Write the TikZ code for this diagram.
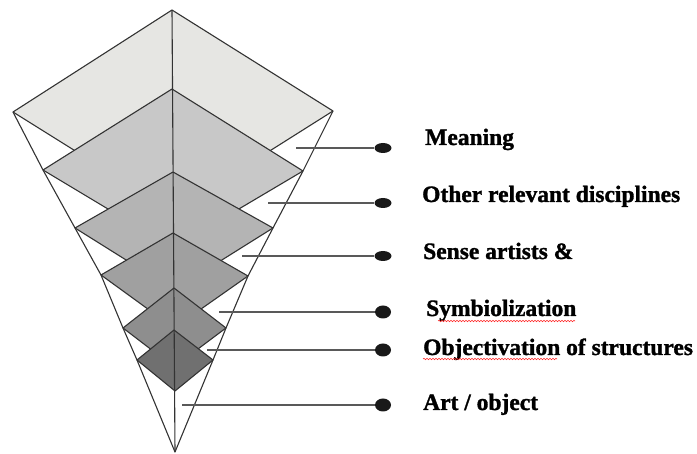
\documentclass[tikz,border=0pt]{standalone}
\usepackage{fontspec}
\setmainfont{Liberation Serif}
\newfontfamily\heavyserif[BoldFeatures={FakeBold=1.3}]{Liberation Serif}
\usetikzlibrary{shapes.geometric,decorations.pathmorphing}

\begin{document}
\begin{tikzpicture}[x=1pt, y=-1pt,
    layer/.style={draw=black!80, line width=1.1pt, line join=round},
    pointer/.style={draw=black!65, line width=1.1pt},
    bullet/.style={ellipse, fill=black!90, inner sep=0pt, minimum width=17pt, minimum height=10pt},
    bigbullet/.style={bullet, minimum width=16pt, minimum height=13pt},
    levelname/.style={anchor=base west, inner sep=0pt, font=\heavyserif\fontsize{23.5}{24}\selectfont\bfseries},
    squiggle/.style={red!85, line width=0.6pt, decorate, decoration={snake, amplitude=0.7pt, segment length=3pt}}]
    \useasboundingbox (0,0) rectangle (697,454);

    \filldraw[layer, fill={rgb,255:red,230;green,230;blue,227}] (172,10) -- (13,112) -- (173,212) -- (333,111) -- cycle;
    \filldraw[layer, fill={rgb,255:red,200;green,200;blue,200}] (172,89) -- (43,170) -- (173,248) -- (303,171) -- cycle;
    \filldraw[layer, fill={rgb,255:red,180;green,180;blue,180}] (173,172) -- (75,228) -- (174,290) -- (273,228) -- cycle;
    \filldraw[layer, fill={rgb,255:red,160;green,160;blue,160}] (173,233) -- (101,275) -- (174,328) -- (248,276) -- cycle;
    \filldraw[layer, fill={rgb,255:red,142;green,142;blue,142}] (174,288) -- (123,328) -- (174,367) -- (226,328) -- cycle;
    \filldraw[layer, fill={rgb,255:red,112;green,112;blue,112}] (174,330) -- (137,360) -- (175,391) -- (213,360) -- cycle;

    \draw[layer] (13,112) -- (43,170) -- (75,228) -- (101,275) -- (123,328) -- (137,360) -- (175,452)
        -- (213,360) -- (226,328) -- (248,276) -- (273,228) -- (303,171) -- (333,111);
    \draw[layer] (172,10) -- (175,452);

    \coordinate (p1) at (296,148);
    \coordinate (p2) at (268,203);
    \coordinate (p3) at (242,256);
    \coordinate (p4) at (219,312);
    \coordinate (p5) at (207,350);
    \coordinate (p6) at (182,405);

    \node[bullet] (b1) at (383,148) {};
    \node[bullet] (b2) at (383,203) {};
    \node[bullet] (b3) at (383,256) {};
    \node[bigbullet] (b4) at (383,312) {};
    \node[bigbullet] (b5) at (383,350) {};
    \node[bigbullet] (b6) at (383,405) {};

    \draw[pointer] (p1) -- (b1);
    \draw[pointer] (p2) -- (b2);
    \draw[pointer] (p3) -- (b3);
    \draw[pointer] (p4) -- (b4);
    \draw[pointer] (p5) -- (b5);
    \draw[pointer] (p6) -- (b6);

    \node[levelname] (t1) at (425,145) {Meaning};
    \node[levelname] (t2) at (422,202) {Other relevant disciplines};
    \node[levelname] (t3) at (423,259) {Sense artists \&};
    \node[levelname] (t4) at (426,316) {Symbiolization};
    \node[levelname] (t5) at (423,355) {Objectivation of structures};
    \node[levelname] (t6) at (423,410) {Art / object};

    \draw[squiggle] (438,321) -- (575,321);
    \draw[squiggle] (423,359) -- (557,359);
\end{tikzpicture}
\end{document}
